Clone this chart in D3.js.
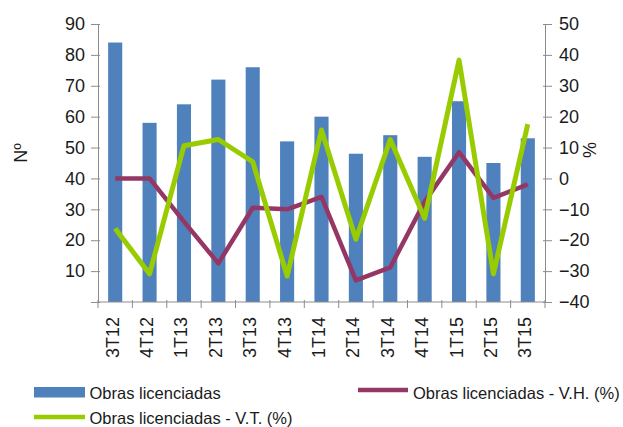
<!DOCTYPE html>
<html>
<head>
<meta charset="utf-8">
<script src="https://cdn.jsdelivr.net/npm/d3@7"></script>
<style>
  body { margin: 0; background: #fff; }
  svg text { font-family: "Liberation Sans", Arial, sans-serif; fill: #1a1a1a; }
</style>
</head>
<body>
<div id="chart"></div>
<script>
// quarters
var categories = ['3T12', '4T12', '1T13', '2T13', '3T13', '4T13', '1T14', '2T14', '3T14', '4T14', '1T15', '2T15', '3T15'];
// Obras licenciadas (Nº, left axis)
var obras = [84, 58, 64, 72, 76, 52, 60, 48, 54, 47, 65, 45, 53];
// year-on-year change (%, right axis)
var varHom = [0, 0, -14, -27.5, -9.5, -10, -6, -33, -28.8, -7.5, 8.5, -6.3, -1.9];
// quarter-on-quarter change (%, right axis)
var varTri = [-16.2, -30.9, 10.6, 12.6, 5.4, -31.6, 15.7, -19.7, 12.6, -12.9, 38.3, -30.9, 17.6];
var leftTicks = [0, 10, 20, 30, 40, 50, 60, 70, 80, 90];
var rightTicks = [-40, -30, -20, -10, 0, 10, 20, 30, 40, 50];

var W = 623, H = 427;
var plot = { left: 98, right: 545, top: 24, bottom: 302 };
var axisColor = '#8c8c8c';
var fontFam = '"Liberation Sans", Arial, sans-serif';

var svg = d3.select('#chart').append('svg')
  .attr('width', W).attr('height', H);

var x = d3.scaleBand()
  .domain(categories)
  .range([plot.left, plot.right])
  .paddingInner(0.59)
  .paddingOuter(0.295);
var step = x.step();
var cx = function(c) { return x(c) + x.bandwidth() / 2; };

var yL = d3.scaleLinear().domain([0, 90]).range([plot.bottom, plot.top]);
var yR = d3.scaleLinear().domain([-40, 50]).range([plot.bottom, plot.top]);

// bars
svg.append('g').selectAll('rect')
  .data(obras)
  .join('rect')
  .attr('x', function(d, i) { return x(categories[i]); })
  .attr('y', function(d) { return yL(d); })
  .attr('width', x.bandwidth())
  .attr('height', function(d) { return yL(0) - yL(d); })
  .attr('fill', '#4f81bd');

function styleAxis(g, inner) {
  g.select('.domain').attr('stroke', axisColor);
  g.selectAll('.tick line').attr('stroke', axisColor).attr('x1', inner);
  g.selectAll('text').attr('font-size', 18).attr('fill', '#1a1a1a')
    .attr('font-family', fontFam);
}

// left axis
svg.append('g')
  .attr('transform', 'translate(' + plot.left + ',0)')
  .call(d3.axisLeft(yL).tickValues(leftTicks).tickSizeInner(7).tickSizeOuter(0).tickPadding(6)
    .tickFormat(function(d) { return d === 0 ? '' : d; }))
  .call(function(g) { styleAxis(g, 2); });

// right axis
svg.append('g')
  .attr('transform', 'translate(' + plot.right + ',0)')
  .call(d3.axisRight(yR).tickValues(rightTicks).tickSizeInner(7).tickSizeOuter(0).tickPadding(7))
  .call(function(g) { styleAxis(g, -2); });

// bottom axis: line + ticks at category boundaries
var bottom = svg.append('g');
bottom.append('line')
  .attr('x1', plot.left).attr('x2', plot.right)
  .attr('y1', plot.bottom).attr('y2', plot.bottom)
  .attr('stroke', axisColor);
bottom.selectAll('line.tk')
  .data(d3.range(categories.length + 1))
  .join('line')
  .attr('class', 'tk')
  .attr('x1', function(i) { return plot.left + i * step; })
  .attr('x2', function(i) { return plot.left + i * step; })
  .attr('y1', plot.bottom - 2).attr('y2', plot.bottom + 6)
  .attr('stroke', axisColor);
bottom.selectAll('text')
  .data(categories)
  .join('text')
  .attr('transform', function(d) { return 'translate(' + (cx(d) + 3.5) + ',' + (plot.bottom + 15) + ') rotate(-90)'; })
  .attr('text-anchor', 'end')
  .attr('font-size', 18)
  .text(function(d) { return d; });

// lines
var lineR = d3.line()
  .x(function(d, i) { return cx(categories[i]); })
  .y(function(d) { return yR(d); });

svg.append('path')
  .datum(varHom)
  .attr('d', lineR)
  .attr('fill', 'none')
  .attr('stroke', '#953764')
  .attr('stroke-width', 4.5)
  .attr('stroke-linejoin', 'round');

svg.append('path')
  .datum(varTri)
  .attr('d', lineR)
  .attr('fill', 'none')
  .attr('stroke', '#99cc00')
  .attr('stroke-width', 5)
  .attr('stroke-linejoin', 'round');

// axis titles
svg.append('text')
  .attr('transform', 'translate(27,153) rotate(-90)')
  .attr('text-anchor', 'middle')
  .attr('font-size', 18)
  .text('Nº');
svg.append('text')
  .attr('transform', 'translate(583,150) rotate(90)')
  .attr('text-anchor', 'middle')
  .attr('font-size', 18)
  .text('%');

// legend
var legend = svg.append('g');
legend.append('rect')
  .attr('x', 34).attr('y', 387).attr('width', 51).attr('height', 10.5)
  .attr('fill', '#4f81bd');
legend.append('text')
  .attr('x', 89.5).attr('y', 398.5).attr('font-size', 16.5)
  .text('Obras licenciadas');
legend.append('line')
  .attr('x1', 358).attr('x2', 408).attr('y1', 390).attr('y2', 390)
  .attr('stroke', '#953764').attr('stroke-width', 4.5);
legend.append('text')
  .attr('x', 413).attr('y', 398.5).attr('font-size', 16.5)
  .text('Obras licenciadas - V.H. (%)');
legend.append('line')
  .attr('x1', 34).attr('x2', 85).attr('y1', 417).attr('y2', 417)
  .attr('stroke', '#99cc00').attr('stroke-width', 4.5);
legend.append('text')
  .attr('x', 89.5).attr('y', 423.5).attr('font-size', 16.5)
  .text('Obras licenciadas - V.T. (%)');
</script>
</body>
</html>
